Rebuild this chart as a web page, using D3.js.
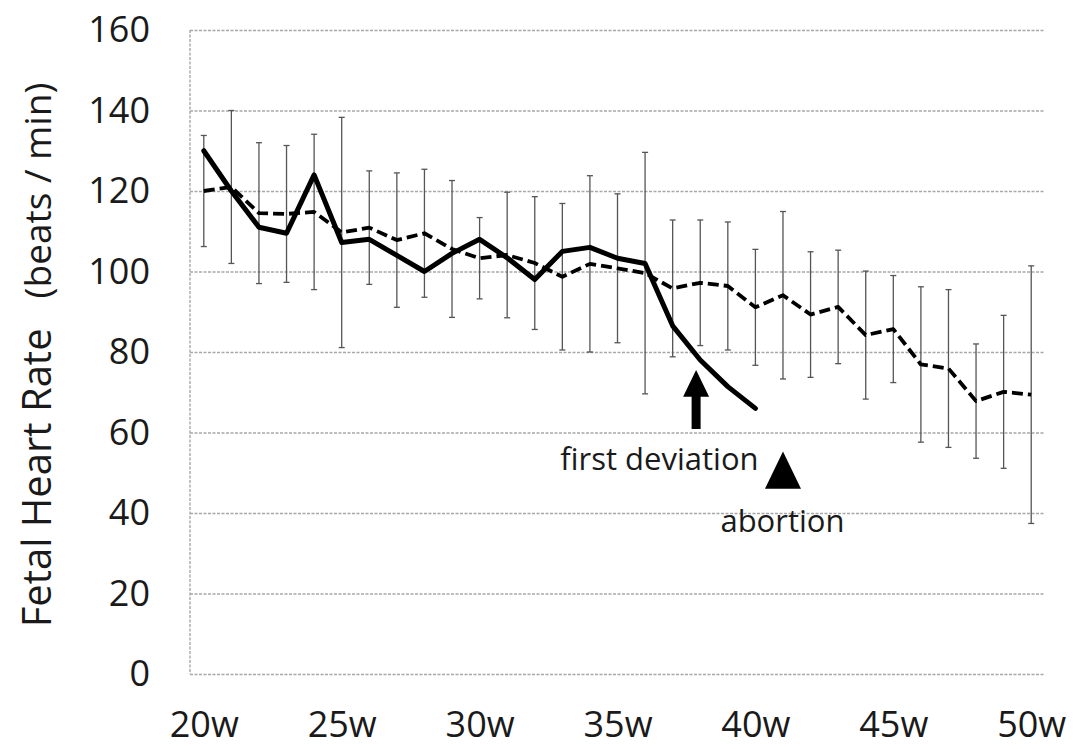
<!DOCTYPE html>
<html>
<head>
<meta charset="utf-8">
<script src="https://cdn.jsdelivr.net/npm/d3@7"></script>
<style>
  body { margin: 0; background: #fff; }
  text { font-family: "Open Sans", "Noto Sans", "Noto Sans CJK JP", sans-serif; fill: #1a1a1a; }
</style>
</head>
<body>
<svg id="chart" width="1077" height="749"></svg>
<script>
// Gestational week of each observation
const weeks = [20, 21, 22, 23, 24, 25, 26, 27, 28, 29, 30, 31, 32, 33, 34, 35,
               36, 37, 38, 39, 40, 41, 42, 43, 44, 45, 46, 47, 48, 49, 50];

// Reference group: mean fetal heart rate (beats/min) and its standard deviation
const meanFHR = [120, 121, 114.5, 114.3, 114.8, 109.7, 110.9, 107.8, 109.5, 105.6,
                 103.3, 104.1, 102.1, 98.7, 101.9, 100.8, 99.6, 95.8, 97.2, 96.4,
                 91.1, 94.1, 89.3, 91.2, 84.2, 85.7, 76.9, 75.9, 67.8, 70.1, 69.4];
const sdFHR   = [13.8, 19, 17.5, 17, 19.3, 28.6, 14.1, 16.7, 15.9, 17,
                 10.1, 15.6, 16.5, 18.2, 21.9, 18.5, 30, 17, 15.6, 15.9,
                 14.4, 20.8, 15.6, 14.1, 15.9, 13.3, 19.3, 19.6, 14.2, 19, 32];

// Individual case (weeks 20 to 40)
const caseWeeks = weeks.slice(0, 21);
const caseFHR = [130, 120, 111, 109.5, 124, 107.2, 108, 104, 100, 104.5,
                 108, 103.4, 98, 105, 106, 103.3, 102, 86.5, 78, 71.4, 66];

// Axis ticks
const yTicks = [0, 20, 40, 60, 80, 100, 120, 140, 160];
const xTickWeeks = [20, 25, 30, 35, 40, 45, 50];
const xTickLabels = ["20w", "25w", "30w", "35w", "40w", "45w", "50w"];

// Annotation anchors (week position)
const deviationWeek = 37.85;
const abortionWeek = 41;

const svg = d3.select("#chart");
const plot = { left: 190, right: 1045, top: 30, bottom: 674 };

const x = d3.scalePoint().domain(weeks).range([plot.left, plot.right]).padding(0.5);
const xw = d3.scaleLinear().domain([20, 50]).range([x(20), x(50)]);
const y = d3.scaleLinear().domain([0, 160]).range([plot.bottom, plot.top]);

// Horizontal gridlines with the value axis labels
const yAxis = d3.axisLeft(y).tickValues(yTicks)
  .tickSize(-(plot.right - plot.left)).tickPadding(40).tickFormat(d3.format("d"));
const gy = svg.append("g").attr("transform", `translate(${plot.left},0)`).call(yAxis);
gy.select(".domain").remove();
gy.selectAll(".tick line")
  .attr("stroke", "#a8a8a8").attr("stroke-width", 1.4).attr("stroke-dasharray", "3,1.5");
gy.selectAll(".tick text")
  .attr("font-size", 36).attr("fill", "#1a1a1a").attr("font-family", "Open Sans");

// Vertical axis line
svg.append("line")
  .attr("x1", plot.left).attr("x2", plot.left)
  .attr("y1", plot.top).attr("y2", plot.bottom)
  .attr("stroke", "#a8a8a8").attr("stroke-width", 1.4).attr("stroke-dasharray", "3,1.5");

// Category axis labels
const xAxis = d3.axisBottom(x).tickValues(xTickWeeks)
  .tickSize(0).tickPadding(37)
  .tickFormat(d => xTickLabels[xTickWeeks.indexOf(d)]);
const gx = svg.append("g").attr("transform", `translate(0,${plot.bottom})`).call(xAxis);
gx.select(".domain").remove();
gx.selectAll(".tick text")
  .attr("font-size", 36).attr("fill", "#1a1a1a").attr("font-family", "Open Sans");

// Error bars (mean ± SD)
const bars = svg.append("g").attr("stroke", "#555").attr("stroke-width", 1.3);
weeks.forEach((w, i) => {
  const cx = x(w);
  const hi = y(meanFHR[i] + sdFHR[i]);
  const lo = y(meanFHR[i] - sdFHR[i]);
  bars.append("line").attr("x1", cx).attr("x2", cx).attr("y1", hi).attr("y2", lo);
  bars.append("line").attr("x1", cx - 3).attr("x2", cx + 3).attr("y1", hi).attr("y2", hi);
  bars.append("line").attr("x1", cx - 3).attr("x2", cx + 3).attr("y1", lo).attr("y2", lo);
});

// Mean line (dashed)
const line = d3.line().x(d => x(d[0])).y(d => y(d[1]));
svg.append("path")
  .datum(weeks.map((w, i) => [w, meanFHR[i]]))
  .attr("d", line)
  .attr("fill", "none").attr("stroke", "#000").attr("stroke-width", 3.8)
  .attr("stroke-dasharray", "11,5").attr("stroke-linejoin", "round");

// Individual case line (solid)
svg.append("path")
  .datum(caseWeeks.map((w, i) => [w, caseFHR[i]]))
  .attr("d", line)
  .attr("fill", "none").attr("stroke", "#000").attr("stroke-width", 5)
  .attr("stroke-linejoin", "round").attr("stroke-linecap", "round");

// Arrow marking the first deviation
const ax = xw(deviationWeek);
const arrowTip = y(75.5), headBase = y(68.9), shaftEnd = y(60.9);
svg.append("path")
  .attr("d", `M${ax},${arrowTip} L${ax + 13},${headBase} L${ax + 4.5},${headBase}
              L${ax + 4.5},${shaftEnd} L${ax - 4.5},${shaftEnd} L${ax - 4.5},${headBase}
              L${ax - 13},${headBase} Z`)
  .attr("fill", "#000");
svg.append("text")
  .attr("x", xw(36.52)).attr("y", y(50.7))
  .attr("text-anchor", "middle").attr("font-size", 31)
  .text("first deviation");

// Triangle marking the abortion
const tx = xw(abortionWeek);
svg.append("path")
  .attr("d", `M${tx},${y(55.3)} L${tx + 18},${y(46)} L${tx - 18},${y(46)} Z`)
  .attr("fill", "#000");
svg.append("text")
  .attr("x", xw(40.98)).attr("y", y(35.4))
  .attr("text-anchor", "middle").attr("font-size", 31)
  .text("abortion");

// Value axis title
const title = svg.append("text")
  .attr("transform", `translate(51,355) rotate(-90)`)
  .attr("text-anchor", "middle").attr("font-size", 40);
title.append("tspan").text("Fetal Heart Rate");
title.append("tspan").attr("dx", 30).attr("font-size", 37).text("(beats / min)");
</script>
</body>
</html>
